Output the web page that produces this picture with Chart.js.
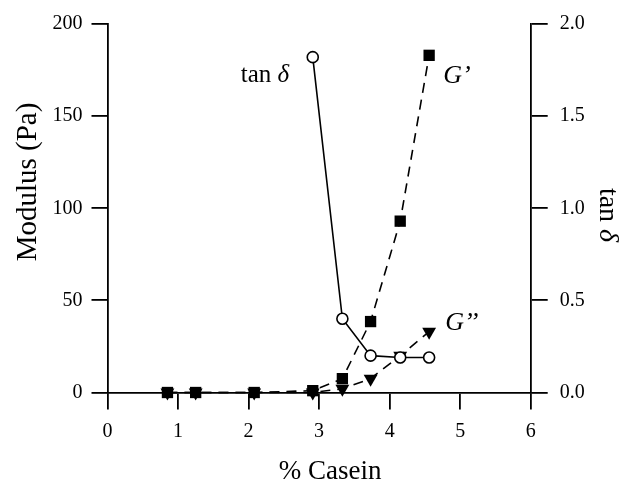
<!DOCTYPE html>
<html>
<head>
<meta charset="utf-8">
<script src="https://cdn.jsdelivr.net/npm/chart.js@4/dist/chart.umd.min.js"></script>
<style>
  html, body { margin: 0; padding: 0; background: #fff; }
  #wrap { width: 623px; height: 485px; position: relative; }
</style>
</head>
<body>
<div id="wrap"><canvas id="chart" width="623" height="485"></canvas></div>
<script>
// Values: modulus and tan delta against casein content.
const casein = [0.85, 1.25, 2.08, 2.91, 3.33, 3.73, 4.15, 4.56];
const storageModulus = [0, 0, 0, 1, 7.5, 38.5, 93, 183];   // G'
const lossModulus = [0, 0, 0, 0, 2, 7.5, 20, 33];          // G''
const tanCasein = [2.91, 3.33, 3.73, 4.15, 4.56];
const tanDelta = [1.82, 0.40, 0.20, 0.19, 0.19];

const xTicks = [0, 1, 2, 3, 4, 5, 6];
const modulusTicks = [0, 50, 100, 150, 200];
const tanTicks = [0, 0.5, 1.0, 1.5, 2.0];

const SERIF = "'Liberation Serif', 'DejaVu Serif', serif";

function toPoints(xs, ys) {
  return xs.map((x, i) => ({ x: x, y: ys[i] }));
}

// Axis titles and in-plot labels are drawn by hand so they sit where the figure has them.
const labelPlugin = {
  id: "labels",
  afterDraw(chart) {
    const ctx = chart.ctx;
    const area = chart.chartArea;
    const x = chart.scales.x;
    ctx.save();
    ctx.fillStyle = "#000";
    ctx.textBaseline = "alphabetic";

    // left title
    ctx.save();
    ctx.translate(36, 182);
    ctx.rotate(-Math.PI / 2);
    ctx.font = "29px " + SERIF;
    ctx.textAlign = "center";
    ctx.fillText("Modulus (Pa)", 0, 0);
    ctx.restore();

    // right title, reading downwards
    ctx.save();
    ctx.translate(600, 215);
    ctx.rotate(Math.PI / 2);
    ctx.font = "28px " + SERIF;
    ctx.textAlign = "left";
    const w1 = ctx.measureText("tan ").width;
    ctx.font = "italic 28px " + SERIF;
    const w2 = ctx.measureText("\u03b4").width;
    ctx.font = "28px " + SERIF;
    ctx.fillText("tan ", -(w1 + w2) / 2, 0);
    ctx.font = "italic 28px " + SERIF;
    ctx.fillText("\u03b4", -(w1 + w2) / 2 + w1, 0);
    ctx.restore();

    // bottom title
    ctx.font = "27px " + SERIF;
    ctx.textAlign = "center";
    ctx.fillText("% Casein", (area.left + area.right) / 2 + 11, 479);

    // tan delta label, left of its first point
    ctx.textAlign = "left";
    ctx.font = "25px " + SERIF;
    const tx = x.getPixelForValue(tanCasein[0]) - 72;
    const tw = ctx.measureText("tan ").width;
    ctx.fillText("tan ", tx, 82);
    ctx.font = "italic 25px " + SERIF;
    ctx.fillText("\u03b4", tx + tw, 82);

    // G' and G'' labels, right of the last points
    ctx.font = "italic 26px " + SERIF;
    const gx = x.getPixelForValue(casein[casein.length - 1]) + 14;
    ctx.fillText("G\u2019", gx, 83);
    ctx.fillText("G\u2019\u2019", gx + 2, 330);
    ctx.restore();
  }
};

new Chart(document.getElementById("chart"), {
  type: "line",
  data: {
    datasets: [
      {
        label: "tan delta",
        data: toPoints(tanCasein, tanDelta),
        yAxisID: "y1",
        borderColor: "#000",
        borderWidth: 1.6,
        pointStyle: "circle",
        pointRadius: 5.5,
        pointBorderWidth: 1.6,
        pointBackgroundColor: "#fff",
        pointBorderColor: "#000",
        tension: 0
      },
      {
        label: "G'",
        data: toPoints(casein, storageModulus),
        yAxisID: "y",
        borderColor: "#000",
        borderWidth: 1.6,
        borderDash: [10, 7],
        pointStyle: "rect",
        pointRadius: 8,
        pointBorderWidth: 0,
        pointBackgroundColor: "#000",
        tension: 0
      },
      {
        label: "G''",
        data: toPoints(casein, lossModulus),
        yAxisID: "y",
        borderColor: "#000",
        borderWidth: 1.6,
        borderDash: [10, 7],
        pointStyle: "triangle",
        pointRotation: 180,
        pointRadius: 8,
        pointBorderWidth: 0,
        pointBackgroundColor: "#000",
        tension: 0
      }
    ]
  },
  options: {
    responsive: false,
    animation: false,
    devicePixelRatio: 1,
    layout: { padding: { top: 21, left: 0, right: 0, bottom: 0 } },
    plugins: {
      legend: { display: false },
      tooltip: { enabled: false }
    },
    elements: { line: { fill: false } },
    clip: false,
    scales: {
      x: {
        type: "linear",
        min: 0,
        max: 6,
        afterBuildTicks: (s) => { s.ticks = xTicks.map((v) => ({ value: v })); },
        afterFit: (s) => { s.height = 92.5; },
        border: { display: true, color: "#000", width: 1.8 },
        grid: { display: true, drawOnChartArea: false, drawTicks: true, tickLength: 17, color: "#000", lineWidth: 1.8 },
        ticks: { color: "#000", padding: 10, font: { family: SERIF, size: 20 } }
      },
      y: {
        type: "linear",
        position: "left",
        min: 0,
        max: 200,
        afterBuildTicks: (s) => { s.ticks = modulusTicks.map((v) => ({ value: v })); },
        afterFit: (s) => { s.width = 107.5; },
        border: { display: true, color: "#000", width: 1.8 },
        grid: { display: true, drawOnChartArea: false, drawTicks: true, tickLength: 16, color: "#000", lineWidth: 1.8 },
        ticks: { color: "#000", padding: 9, font: { family: SERIF, size: 20 } }
      },
      y1: {
        type: "linear",
        position: "right",
        min: 0,
        max: 2,
        afterBuildTicks: (s) => { s.ticks = tanTicks.map((v) => ({ value: v })); },
        afterFit: (s) => { s.width = 92.3; },
        border: { display: true, color: "#000", width: 1.8 },
        grid: { display: true, drawOnChartArea: false, drawTicks: true, tickLength: 17, color: "#000", lineWidth: 1.8 },
        ticks: {
          color: "#000",
          padding: 12,
          font: { family: SERIF, size: 20 },
          callback: (v) => Number(v).toFixed(1)
        }
      }
    }
  },
  plugins: [labelPlugin]
});
</script>
</body>
</html>
